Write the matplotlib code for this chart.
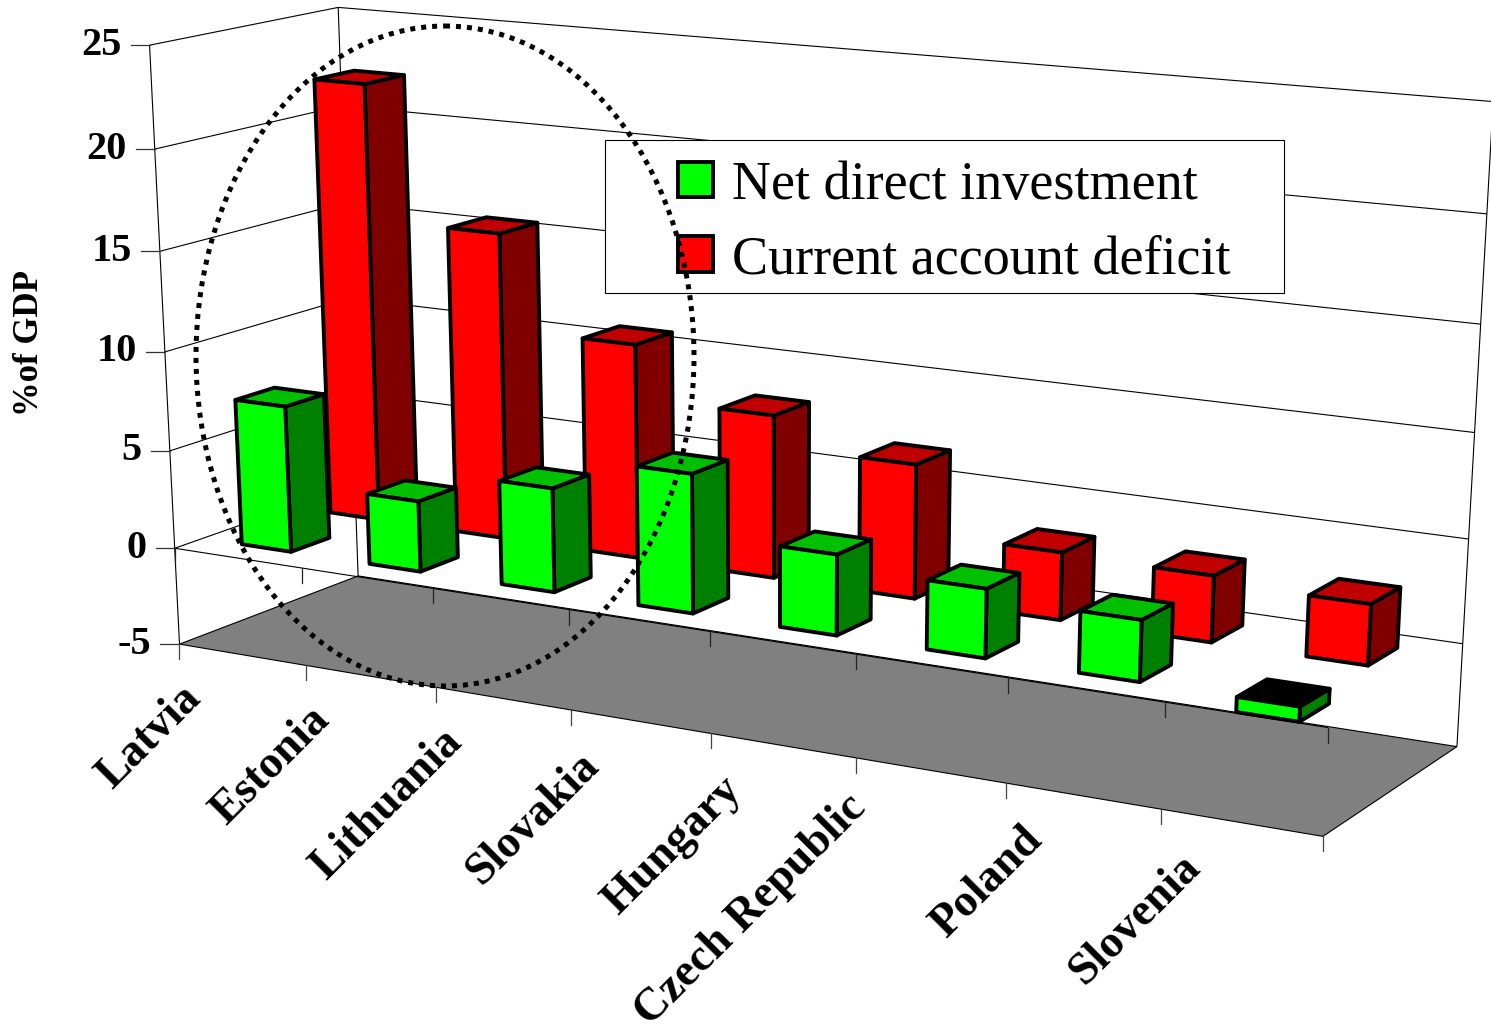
import numpy as np
import matplotlib
matplotlib.use("Agg")
import matplotlib.pyplot as plt
from matplotlib.patches import Polygon, Ellipse, Patch, Rectangle

countries = ["Latvia", "Estonia", "Lithuania", "Slovakia", "Hungary",
             "Czech Republic", "Poland", "Slovenia"]
net_direct = [7.4, 3.55, 5.15, 6.8, 3.9, 3.3, 2.9, -0.7]
current_account = [22.25, 15.5, 10.75, 8.1, 6.6, 3.3, 3.2, 2.9]
value_ticks = [-5, 0, 5, 10, 15, 20, 25]

plt.rcParams['font.family'] = ['Liberation Serif', 'DejaVu Serif']

# ---- perspective of the 3d box: fitted from where its corners sit in the picture ----
# (category, depth, value) -> (pixel x, pixel y)
anchors = [
    (0, 0, -5, 182, 645), (0, 1, -5, 357, 577), (8, 1, -5, 1458, 746), (8, 0, -5, 1322, 835),
    (0, 0, 25, 148, 45), (0, 1, 25, 340, 8), (8, 1, 25, 1492, 102),
    (0, 0, 0, 175, 550), (8, 1, 0, 1462, 645), (8, 0, 0, 1329, 728),
    (2, 0, 0, 432, 588), (4, 0, 0, 709, 632), (6, 0, 0, 1008, 677),
    (0, 1, 0, 354, 482), (8, 1, 20, 1488, 214), (0, 0, 20, 155, 148),
]
rows = []
rhs = []
for c, d, v, px, py in anchors:
    rows.append([c, d, v, 1, 0, 0, 0, 0, -px*c, -px*d, -px*v])
    rows.append([0, 0, 0, 0, c, d, v, 1, -py*c, -py*d, -py*v])
    rhs += [px, py]
P = np.linalg.lstsq(np.array(rows, float), np.array(rhs, float), rcond=None)[0]


def proj(c, d, v):
    w = P[8]*c + P[9]*d + P[10]*v + 1
    return ((P[0]*c + P[1]*d + P[2]*v + P[3]) / w,
            (P[4]*c + P[5]*d + P[6]*v + P[7]) / w)


def seg(ax, a, b, lw=0.8, color="black", z=2):
    pa, pb = proj(*a), proj(*b)
    ax.plot([pa[0], pb[0]], [pa[1], pb[1]], color=color, lw=lw, zorder=z, solid_capstyle="butt")


fig = plt.figure(figsize=(14.91, 10.33), dpi=100)
ax = fig.add_axes([0, 0, 1, 1])
ax.set_xlim(0, 1491)
ax.set_ylim(1033, 0)
ax.axis("off")

# ---- floor and walls ----
n = len(countries)
vmin, vmax = value_ticks[0], value_ticks[-1]
floor = [proj(0, 0, vmin), proj(0, 1, vmin), proj(n, 1, vmin), proj(n, 0, vmin)]
ax.add_patch(Polygon(floor, closed=True, facecolor="#808080", edgecolor="black", lw=0.8, zorder=1))

seg(ax, (0, 0, vmin), (0, 0, vmax))
seg(ax, (0, 1, vmin), (0, 1, vmax))
seg(ax, (n, 1, vmin), (n, 1, vmax))
seg(ax, (0, 0, vmax), (0, 1, vmax))
seg(ax, (0, 1, vmax), (n, 1, vmax))
for v in value_ticks[1:-1]:
    seg(ax, (0, 0, v), (0, 1, v))
    seg(ax, (0, 1, v), (n, 1, v))

# category axis at zero, with ticks hanging from it and from the floor edge
seg(ax, (0, 0, 0), (n, 0, 0), z=2.5)
for i in range(n + 1):
    x, y = proj(i, 0, 0)
    ax.plot([x, x], [y, y + 15], color="#222222", lw=0.9, zorder=2.5)
    x, y = proj(i, 0, vmin)
    ax.plot([x, x], [y, y + 15], color="#444444", lw=0.9, zorder=2.5)

# value axis ticks and labels
for v in value_ticks:
    x, y = proj(0, 0, v)
    ax.plot([x - 19, x], [y, y], color="#333333", lw=0.9, zorder=2)
    ax.text(x - 28, y, str(v), ha="right", va="center", fontsize=29, fontweight="bold")

ax.text(30, 343, "%of GDP", rotation=90, ha="center", va="center", fontsize=25, fontweight="bold")

for i, name in enumerate(countries):
    x, y = proj(i + 0.5, 0, vmin)
    # the long label sits further left in the original and only just fits the height
    dx, dy = (-85, 16) if name == "Czech Republic" else (-62, 23)
    ax.text(x + dx, y + dy, name, rotation=45, rotation_mode="anchor", ha="right", va="top",
            fontsize=33, fontweight="bold")


# ---- bars ----
def bar(ax, i, value, d0, d1, front, top, side, z):
    c0, c1 = i + 0.31, i + 0.70
    lo, hi = min(0, value), max(0, value)
    faces = [
        ([proj(c1, d0, lo), proj(c1, d1, lo), proj(c1, d1, hi), proj(c1, d0, hi)], side),
        ([proj(c0, d0, hi), proj(c1, d0, hi), proj(c1, d1, hi), proj(c0, d1, hi)],
         "black" if value < 0 else top),
        ([proj(c0, d0, lo), proj(c1, d0, lo), proj(c1, d0, hi), proj(c0, d0, hi)], front),
    ]
    for pts, col in faces:
        ax.add_patch(Polygon(pts, closed=True, facecolor=col, edgecolor="black", lw=2.8,
                             joinstyle="round", zorder=z))


for i, value in enumerate(current_account):
    bar(ax, i, value, 0.64, 0.86, "#FF0000", "#C00000", "#800000", 3)
for i, value in enumerate(net_direct):
    bar(ax, i, value, 0.15, 0.36, "#00FF00", "#00C000", "#008000", 4)

# ---- legend: box drawn apart so that it can be wider than the entries need ----
ax.add_patch(Rectangle((605, 140), 679, 153, facecolor="white", edgecolor="black", lw=0.8, zorder=5))
handles = [Patch(facecolor="#00FF00", edgecolor="black", lw=2.8),
           Patch(facecolor="#FF0000", edgecolor="black", lw=2.8)]
leg = ax.legend(handles, ["Net direct investment", "Current account deficit"],
                loc="upper left", bbox_to_anchor=(678, 160), bbox_transform=ax.transData,
                fontsize=39, frameon=False,
                handlelength=0.64, handleheight=0.64, handletextpad=0.36, labelspacing=0.45,
                borderpad=0, borderaxespad=0)
leg.set_zorder(5.5)

# ---- dotted ellipse round the Baltic countries ----
ax.add_patch(Ellipse((445, 356), 498, 660, fill=False, edgecolor="black", lw=3.6,
                     linestyle=(0, (1, 1.2)), zorder=6))

fig.savefig("out.png", dpi=100)
